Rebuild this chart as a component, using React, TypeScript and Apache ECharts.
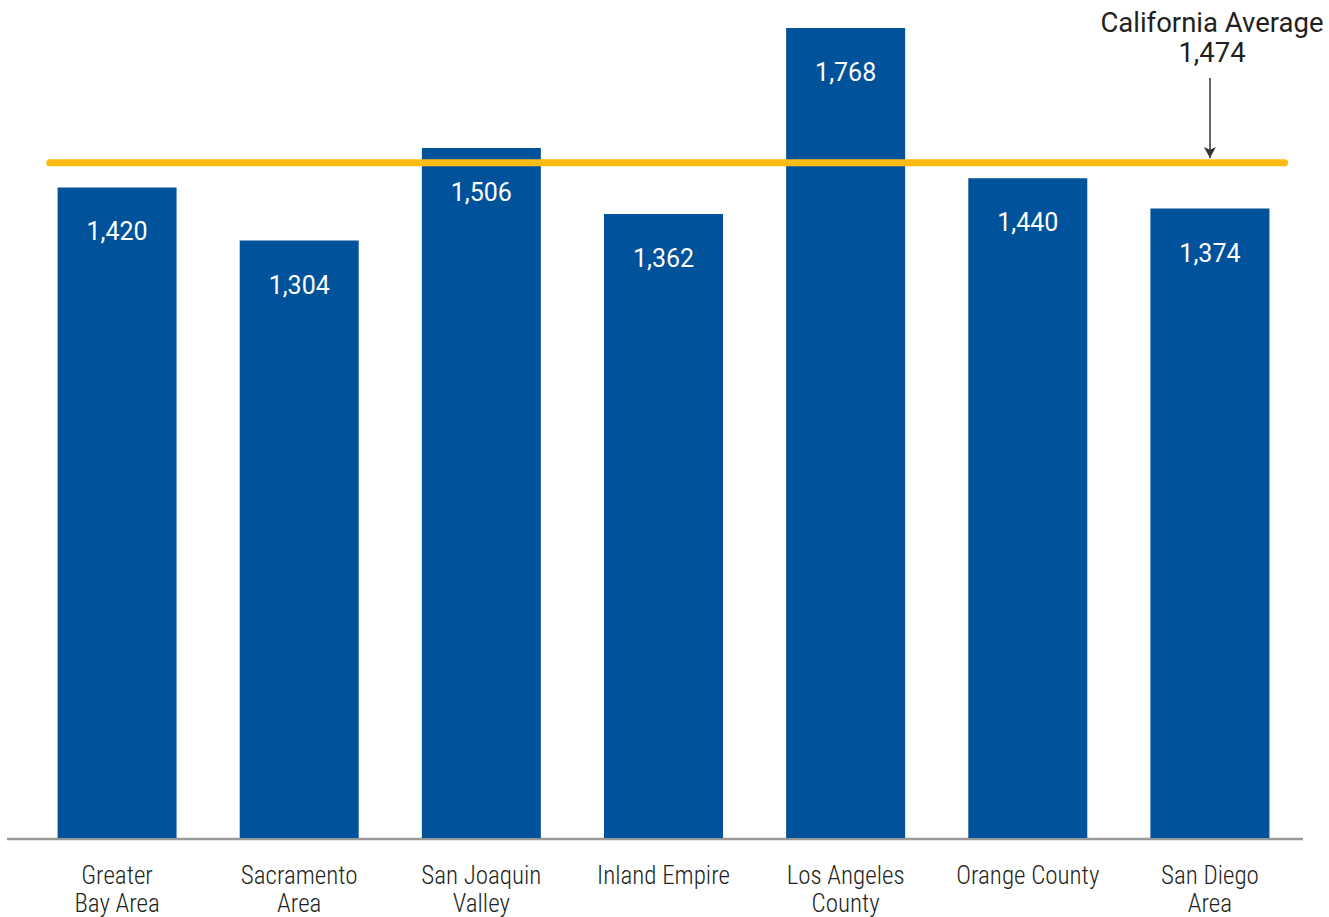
import React, { useEffect, useRef } from "react";
import * as echarts from "echarts";

const categories = [
  "Greater\nBay Area",
  "Sacramento\nArea",
  "San Joaquin\nValley",
  "Inland Empire",
  "Los Angeles\nCounty",
  "Orange County",
  "San Diego\nArea",
];
const values = [1420, 1304, 1506, 1362, 1768, 1440, 1374];
const californiaAverage = 1474;
const averageLabel = "California Average";
// extent of the average line along a 0..7 category-unit axis
const averageSpan = [0.13, 6.91];
const arrowAt = 6.5;
const arrowFrom = 1659;
const arrowTo = 1484;

const BLUE = "#00529B";
const GOLD = "#FDBB14";
const TEXT = "#231F20";

export default function App() {
  const ref = useRef<HTMLDivElement>(null);
  useEffect(() => {
    if (!ref.current) return;
    const chart = echarts.init(ref.current, undefined, { renderer: "svg" });
    const fmt = (v: number) => v.toLocaleString("en-US");
    chart.setOption({
      animation: false,
      backgroundColor: "#ffffff",
      grid: { left: 26, right: 28, top: 28, bottom: 78, containLabel: false },
      xAxis: [
        {
          type: "category",
          data: categories,
          axisLine: { show: false },
          axisTick: { show: false },
          axisLabel: {
            interval: 0,
            margin: 23,
            color: TEXT,
            fontSize: 25,
            fontWeight: 300,
            lineHeight: 28,
            fontFamily: "'Liberation Sans Narrow', Roboto, sans-serif",
          },
        },
        { type: "value", min: 0, max: 7, show: false },
      ],
      yAxis: {
        type: "value",
        min: 0,
        max: 1768,
        show: false,
        splitLine: { show: false },
      },
      series: [
        {
          type: "bar",
          data: values,
          barWidth: 119,
          itemStyle: { color: BLUE },
          label: {
            show: true,
            position: "insideTop",
            distance: 32,
            color: "#ffffff",
            fontSize: 25,
            fontFamily: "Roboto, 'Liberation Sans', sans-serif",
            formatter: (p: any) => fmt(p.value),
          },
          z: 2,
        },
        {
          type: "line",
          xAxisIndex: 1,
          data: [
            [averageSpan[0], californiaAverage],
            [averageSpan[1], californiaAverage],
          ],
          symbol: "none",
          lineStyle: { color: GOLD, width: 7, cap: "round" },
          z: 3,
          markLine: {
            silent: true,
            symbol: ["none", "arrow"],
            symbolSize: [9, 11],
            lineStyle: { color: "#333333", width: 1.5, type: "solid" },
            label: { show: false },
            data: [[{ coord: [arrowAt, arrowFrom] }, { coord: [arrowAt, arrowTo] }]],
          },
        },
      ],
      graphic: [
        {
          type: "line",
          shape: { x1: 7, y1: 839, x2: 1303, y2: 839 },
          style: { stroke: "#999999", lineWidth: 2.5 },
          z: 1,
        },
        {
          type: "text",
          x: 1212,
          y: 7,
          style: {
            text: averageLabel + "\n" + fmt(californiaAverage),
            align: "center",
            verticalAlign: "top",
            fill: TEXT,
            fontSize: 27.5,
            lineHeight: 30,
            fontFamily: "Roboto, 'Liberation Sans', sans-serif",
          },
        },
      ],
    });
    return () => chart.dispose();
  }, []);
  return (
    <>
      <style>{`.cachart text[style*="Narrow"], .cachart text[font-family*="Narrow"] { font-stretch: condensed; }`}</style>
      <div
        ref={ref}
        className="cachart"
        style={{ position: "absolute", left: 0, top: 0, width: 1329, height: 917 }}
      />
    </>
  );
}
